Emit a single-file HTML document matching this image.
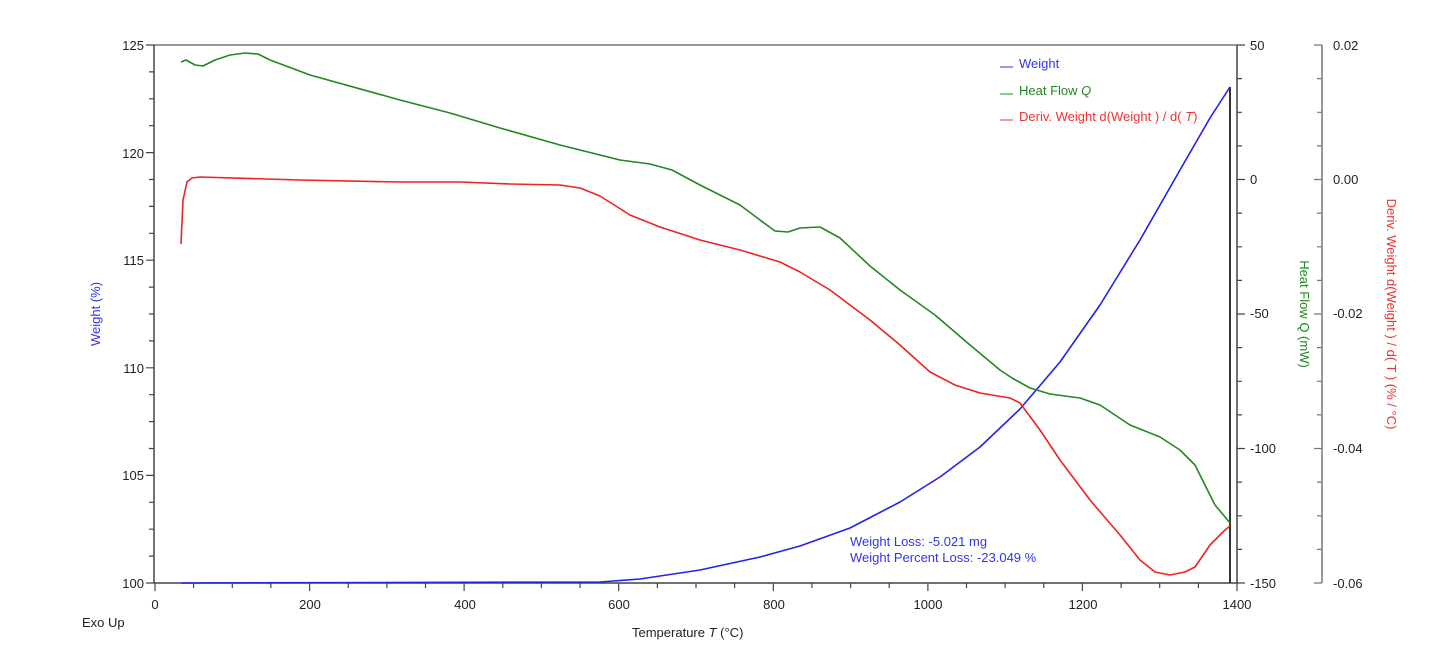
<!DOCTYPE html>
<html><head><meta charset="utf-8"><style>body{margin:0;background:#fff}svg{display:block}text{font-family:"Liberation Sans",sans-serif;font-size:13px}</style></head><body>
<svg width="1447" height="660" viewBox="0 0 1447 660">
<g stroke="#444" stroke-width="1.5" fill="none">
<line x1="154" y1="45" x2="1237" y2="45" stroke="#777"/>
<line x1="154" y1="45" x2="154" y2="583"/>
<line x1="154" y1="583" x2="1237" y2="583"/>
<line x1="1237" y1="45" x2="1237" y2="583"/>
<line x1="1322" y1="45" x2="1322" y2="583" stroke="#777"/>
<line x1="1230" y1="87" x2="1230" y2="583" stroke="#333" stroke-width="2"/>
</g>
<g stroke="#444" stroke-width="1.2" fill="none">
<path d="M155,583v8M193.6,583v5M232.3,583v5M270.9,583v5M309.6,583v8M348.2,583v5M386.9,583v5M425.5,583v5M464.1,583v8M502.8,583v5M541.4,583v5M580.1,583v5M618.7,583v8M657.4,583v5M696,583v5M734.6,583v5M773.3,583v8M811.9,583v5M850.6,583v5M889.2,583v5M927.9,583v8M966.5,583v5M1005.1,583v5M1043.8,583v5M1082.4,583v8M1121.1,583v5M1159.7,583v5M1198.4,583v5M1237,583v8"/>
<path d="M154,45h-8M154,71.9h-5M154,98.8h-5M154,125.7h-5M154,152.6h-8M154,179.5h-5M154,206.4h-5M154,233.3h-5M154,260.2h-8M154,287.1h-5M154,314h-5M154,340.9h-5M154,367.8h-8M154,394.7h-5M154,421.6h-5M154,448.5h-5M154,475.4h-8M154,502.3h-5M154,529.2h-5M154,556.1h-5M154,583h-8"/>
<path d="M1237,45h8M1237,78.6h5M1237,112.3h5M1237,145.9h5M1237,179.5h8M1237,213.1h5M1237,246.8h5M1237,280.4h5M1237,314h8M1237,347.6h5M1237,381.3h5M1237,414.9h5M1237,448.5h8M1237,482.1h5M1237,515.8h5M1237,549.4h5M1237,583h8"/>
<path stroke="#777" d="M1322,45h-8M1322,78.6h-5M1322,112.3h-5M1322,145.9h-5M1322,179.5h-8M1322,213.1h-5M1322,246.8h-5M1322,280.4h-5M1322,314h-8M1322,347.6h-5M1322,381.3h-5M1322,414.9h-5M1322,448.5h-8M1322,482.1h-5M1322,515.8h-5M1322,549.4h-5M1322,583h-8"/>
</g>
<g font-size="13" fill="#222">
<text x="144" y="50" text-anchor="end">125</text><text x="144" y="158" text-anchor="end">120</text><text x="144" y="265" text-anchor="end">115</text><text x="144" y="373" text-anchor="end">110</text><text x="144" y="480" text-anchor="end">105</text><text x="144" y="588" text-anchor="end">100</text>
<text x="155" y="609" text-anchor="middle">0</text><text x="310" y="609" text-anchor="middle">200</text><text x="465" y="609" text-anchor="middle">400</text><text x="619" y="609" text-anchor="middle">600</text><text x="774" y="609" text-anchor="middle">800</text><text x="928" y="609" text-anchor="middle">1000</text><text x="1083" y="609" text-anchor="middle">1200</text><text x="1237" y="609" text-anchor="middle">1400</text>
<text x="1250" y="50">50</text><text x="1250" y="184">0</text><text x="1250" y="318">-50</text><text x="1250" y="453">-100</text><text x="1250" y="588">-150</text>
<text x="1333" y="50">0.02</text><text x="1333" y="184">0.00</text><text x="1333" y="318">-0.02</text><text x="1333" y="453">-0.04</text><text x="1333" y="588">-0.06</text>
<text x="82" y="627" font-size="12">Exo Up</text>
<text x="632" y="637" font-size="12">Temperature <tspan font-style="italic">T</tspan> (°C)</text>
</g>
<text transform="translate(100,314) rotate(-90)" text-anchor="middle" fill="#3333ee" font-size="13">Weight  (%)</text>
<text transform="translate(1300,314) rotate(90)" text-anchor="middle" fill="#228822" font-size="13">Heat Flow  Q  (mW)</text>
<text transform="translate(1387,314) rotate(90)" text-anchor="middle" fill="#ee3333" font-size="13">Deriv. Weight d(Weight ) / d( T )  (% / °C)</text>
<g font-size="12">
<line x1="1000" y1="67" x2="1013" y2="67" stroke="#3333ee"/><text x="1019" y="68" fill="#3333ee">Weight</text>
<line x1="1000" y1="94" x2="1013" y2="94" stroke="#228822"/><text x="1019" y="95" fill="#228822">Heat Flow <tspan font-style="italic">Q</tspan></text>
<line x1="1000" y1="120" x2="1013" y2="120" stroke="#ee3333"/><text x="1019" y="121" fill="#ee3333">Deriv. Weight d(Weight ) / d( <tspan font-style="italic">T</tspan>)</text>
<text x="850" y="546" fill="#3333ee" font-size="13">Weight Loss: -5.021 mg</text>
<text x="850" y="562" fill="#3333ee" font-size="13">Weight Percent Loss: -23.049 %</text>
</g>
<g fill="none" stroke-width="1.6" stroke-linejoin="round">
<path stroke="#2222ee" d="M181,583 L600,582 L640,579 L700,570 L760,557 L800,546 L850,528 L900,502 L940,477 L980,447 L1020,409 L1060,362 L1100,305 L1140,240 L1180,170 L1210,118 L1230,87"/>
<path stroke="#228822" d="M181,62 L186,60 L195,65 L203,66 L215,60 L230,55 L245,53 L258,54 L270,60 L310,75 L400,100 L450,113 L500,128 L560,145 L620,160 L650,164 L672,170 L700,185 L740,205 L760,220 L775,231 L788,232 L800,228 L820,227 L840,238 L870,266 L900,290 L935,315 L970,345 L1000,370 L1012,378 L1030,388 L1050,394 L1080,398 L1100,405 L1130,425 L1160,437 L1180,450 L1195,465 L1205,485 L1215,505 L1230,523"/>
<path stroke="#ee2222" d="M181,244 L183,200 L187,182 L192,178 L200,177 L300,180 L400,182 L460,182 L510,184 L560,185 L580,188 L600,196 L630,215 L660,227 L700,240 L740,250 L780,262 L800,272 L830,290 L870,320 L900,345 L930,372 L955,385 L980,393 L1010,398 L1020,403 L1040,430 L1060,460 L1090,500 L1120,535 L1140,560 L1155,572 L1170,575 L1185,572 L1195,567 L1210,545 L1225,530 L1230,526"/>
</g>
</svg></body></html>
